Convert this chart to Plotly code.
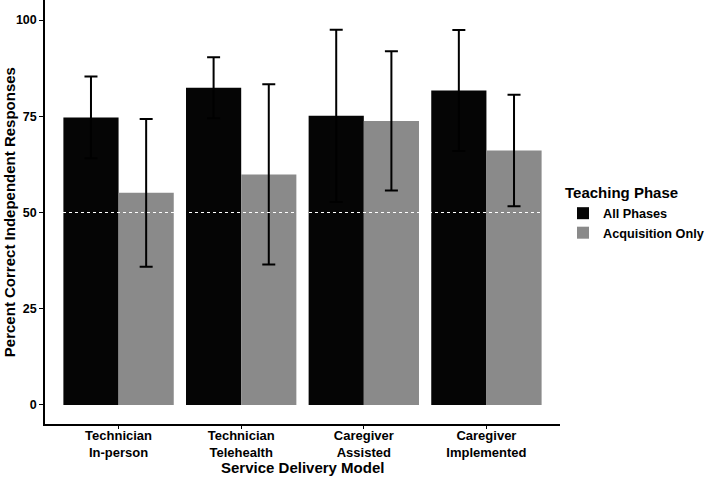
import plotly.graph_objects as go

categories = ["Technician<br>In-person", "Technician<br>Telehealth", "Caregiver<br>Assisted", "Caregiver<br>Implemented"]
all_phases = [74.7, 82.4, 75.1, 81.7]
all_phases_err = [10.6, 7.9, 22.4, 15.7]
acquisition_only = [55.1, 59.9, 73.8, 66.1]
acquisition_only_err = [19.2, 23.4, 18.1, 14.5]
y_ticks = [0, 25, 50, 75, 100]
reference_line = 50

FONT = "Liberation Sans"
xpos = list(range(len(categories)))

fig = go.Figure()
fig.add_trace(go.Bar(
    x=xpos, y=all_phases, name="All Phases",
    marker=dict(color="#050505", line=dict(width=0)),
    error_y=dict(type="data", array=all_phases_err, color="black", thickness=2, width=6.5),
))
fig.add_trace(go.Bar(
    x=xpos, y=acquisition_only, name="Acquisition Only",
    marker=dict(color="#8a8a8a", line=dict(width=0)),
    error_y=dict(type="data", array=acquisition_only_err, color="black", thickness=2, width=6.5),
))

fig.add_shape(type="line", xref="x", yref="y", x0=-0.6, x1=3.6, y0=reference_line, y1=reference_line,
              line=dict(color="white", width=1, dash="dot"), layer="above")

fig.update_layout(
    width=709, height=478,
    margin=dict(l=45, r=147, t=0, b=54),
    paper_bgcolor="white", plot_bgcolor="white",
    barmode="group", bargap=0.1, bargroupgap=0,
    font=dict(family=FONT, color="black", size=13),
    showlegend=True,
    legend=dict(
        title=dict(text="Teaching Phase", font=dict(family=FONT, size=15, weight="bold")),
        font=dict(family=FONT, size=12.7, weight="bold"),
        x=1.0065, xanchor="left", y=0.578, yanchor="top",
        tracegroupgap=0,
        bgcolor="rgba(0,0,0,0)",
    ),
    xaxis=dict(
        range=[-0.6, 3.6], tickmode="array", tickvals=xpos, ticktext=categories,
        showline=True, linecolor="black", linewidth=1.5, ticks="outside", ticklen=3,
        tickcolor="black", tickwidth=1, showgrid=False, zeroline=False,
        tickfont=dict(family=FONT, size=13, weight="bold", color="black"),
        ticklabelstandoff=-4,
        automargin=False,
    ),
    yaxis=dict(
        range=[-4.94, 105.2], tickmode="array", tickvals=y_ticks,
        showline=True, linecolor="black", linewidth=1.5, ticks="outside", ticklen=4,
        tickcolor="black", tickwidth=1, showgrid=False, zeroline=False,
        tickfont=dict(family=FONT, size=12.5, weight="bold", color="black"),
        automargin=False,
    ),
    annotations=[
        dict(text="Percent Correct Independent Responses", xref="paper", yref="paper",
             x=-0.0696, y=0.5, xanchor="center", yanchor="middle", textangle=-90, showarrow=False,
             font=dict(family=FONT, size=15, weight="bold", color="black")),
        dict(text="Service Delivery Model", xref="paper", yref="paper",
             x=0.5, y=-0.1025, xanchor="center", yanchor="middle", showarrow=False,
             font=dict(family=FONT, size=15, weight="bold", color="black")),
    ],
)

fig.write_html("out.html", config={"displayModeBar": False},
               post_script="document.body.style.margin='0';")
